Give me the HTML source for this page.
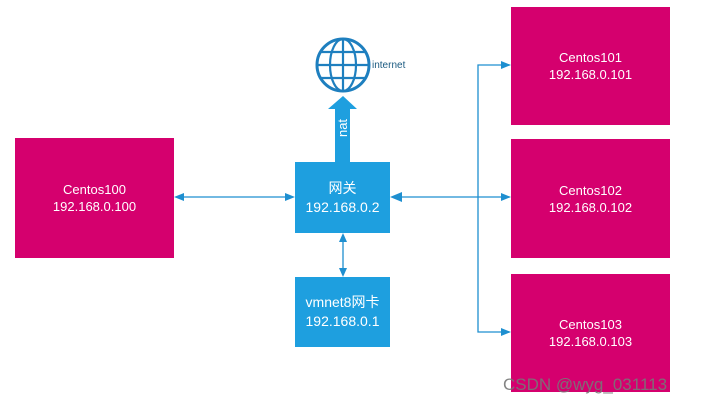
<!DOCTYPE html>
<html><head><meta charset="utf-8"><style>
body{margin:0;width:703px;height:404px;background:#fff;overflow:hidden;position:relative;font-family:"Liberation Sans","Noto Sans CJK SC",sans-serif}
.b{position:absolute;display:flex;flex-direction:column;align-items:center;justify-content:center;color:#fff;font-size:13px;line-height:17px;text-align:center}
.m{background:#d5006e}.c{background:#1e9fdf}
</style></head><body>
<div class="b m" style="left:15px;top:138px;width:159px;height:120px">Centos100<br>192.168.0.100</div>
<div class="b m" style="left:511px;top:7px;width:159px;height:118px">Centos101<br>192.168.0.101</div>
<div class="b m" style="left:511px;top:139px;width:159px;height:119px">Centos102<br>192.168.0.102</div>
<div class="b m" style="left:511px;top:274px;width:159px;height:118px">Centos103<br>192.168.0.103</div>
<div class="b c" style="left:295px;top:162px;width:95px;height:71px;font-size:14px;line-height:19px">网关<br>192.168.0.2</div>
<div class="b c" style="left:295px;top:277px;width:95px;height:70px;font-size:14px;line-height:19px">vmnet8网卡<br>192.168.0.1</div>
<svg width="703" height="404" style="position:absolute;left:0;top:0">
<g stroke="#1e8fd0" stroke-width="1.3" fill="none">
<line x1="182" y1="197" x2="287" y2="197"/>
<line x1="398" y1="197" x2="503" y2="197"/>
<polyline points="503,65 478,65 478,332 503,332"/>
<line x1="343" y1="240" x2="343" y2="269"/>
</g>
<g fill="#1e8fd0">
<polygon points="174,197 184,193 184,201"/>
<polygon points="295,197 285,193 285,201"/>
<polygon points="390,197 402,192 402,202"/>
<polygon points="511,65 501,61 501,69"/>
<polygon points="511,197 501,193 501,201"/>
<polygon points="511,332 501,328 501,336"/>
<polygon points="343,233 339,242 347,242"/>
<polygon points="343,277 339,268 347,268"/>
</g>
<polygon points="335,162 335,109 328,109 343,96 357,109 350,109 350,162" fill="#1e9fdf"/>
<text transform="translate(347,128) rotate(-90)" text-anchor="middle" fill="#fff" font-size="13" font-family="Liberation Sans">nat</text>
<g stroke="#1e7fbf" stroke-width="2.2" fill="none">
<circle cx="343" cy="65" r="26" stroke-width="3"/>
<ellipse cx="343" cy="65" rx="13" ry="26"/>
<line x1="343" y1="39" x2="343" y2="91"/>
<line x1="317" y1="65" x2="369" y2="65"/>
<line x1="321" y1="52" x2="365" y2="52"/>
<line x1="321" y1="78" x2="365" y2="78"/>
</g>
<text x="372" y="68" font-size="10" fill="#1a5a80" font-family="Liberation Sans">internet</text>
<text x="503" y="390" font-size="17" fill="#777" font-family="Liberation Sans" opacity="0.9">CSDN @wyg_031113</text>
</svg>
</body></html>
